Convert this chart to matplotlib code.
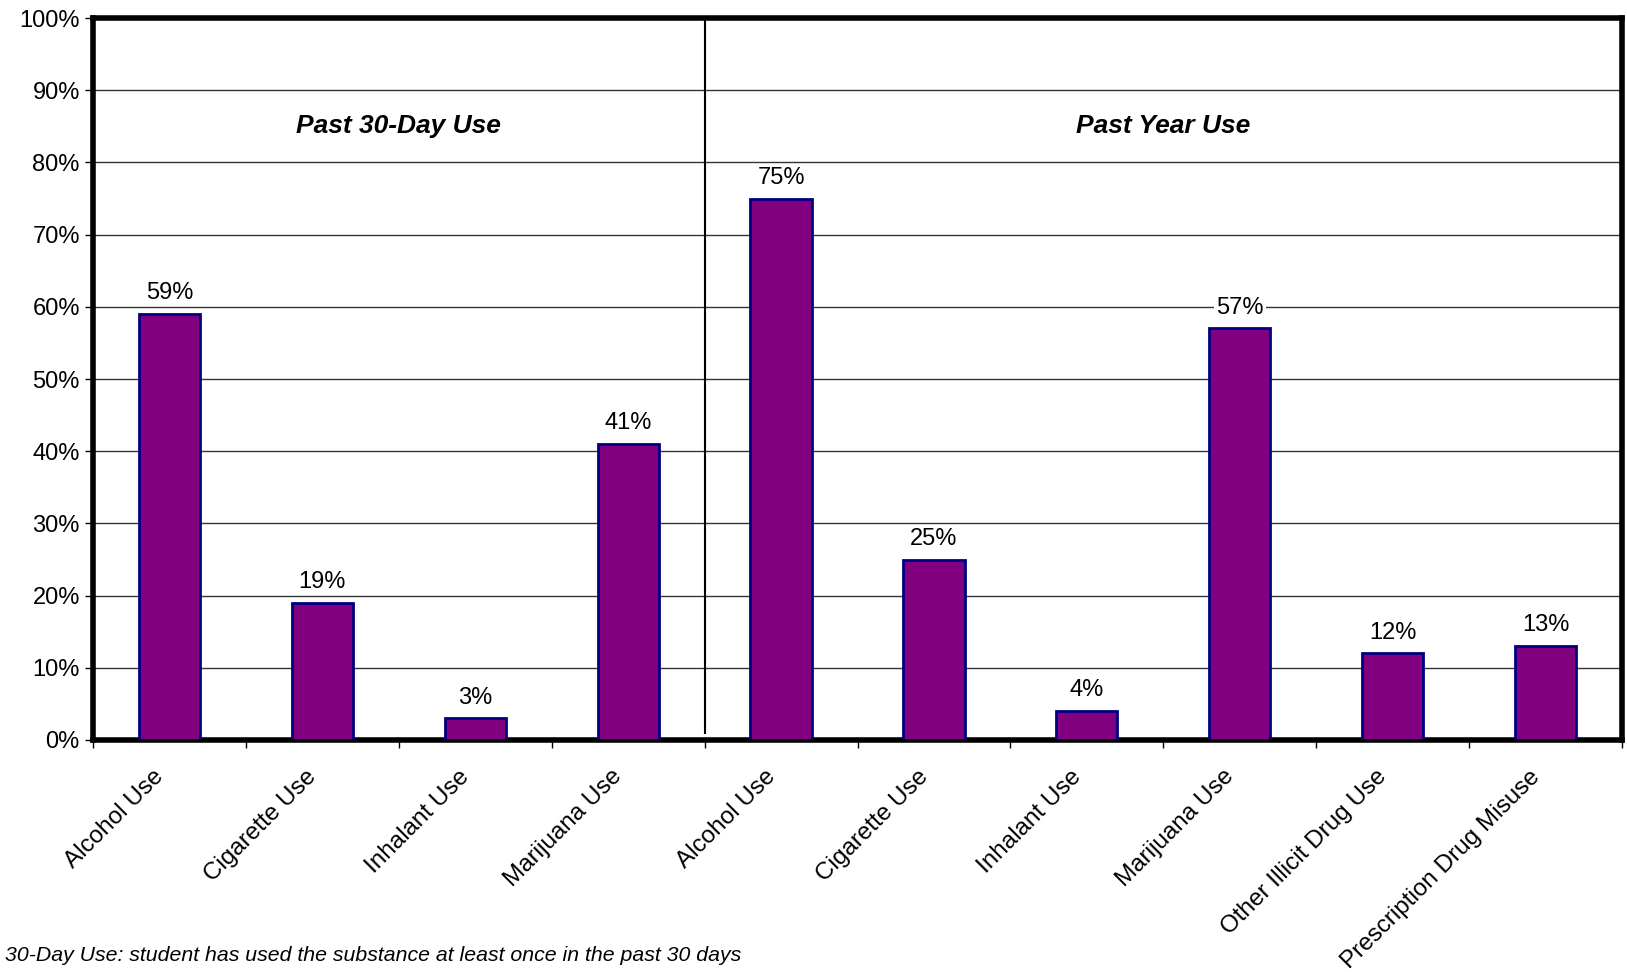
import matplotlib.pyplot as plt
import numpy as np

plt.rcParams['font.family'] = ['Liberation Sans', 'DejaVu Sans']

# survey results, percent of students
categories = ["Alcohol Use", "Cigarette Use", "Inhalant Use", "Marijuana Use",
              "Alcohol Use", "Cigarette Use", "Inhalant Use", "Marijuana Use",
              "Other Illicit Drug Use", "Prescription Drug Misuse"]
values = [59, 19, 3, 41, 75, 25, 4, 57, 12, 13]
groups = ["Past 30-Day Use", "Past Year Use"]
group_sizes = [4, 6]
footnote = "30-Day Use: student has used the substance at least once in the past 30 days"

fig = plt.figure(figsize=(16.27, 9.72), dpi=100)
ax = fig.add_axes([93 / 1627, 1 - 740 / 972, (1622 - 93) / 1627, (740 - 18) / 972])

x = np.arange(len(values))
bars = ax.bar(x, values, width=0.4, color="#800080", edgecolor="#000080",
              linewidth=2, zorder=3)

for xi, v in zip(x, values):
    ax.annotate(f"{v}%", (xi, v), xytext=(0, 7), textcoords="offset points",
                ha="center", va="bottom", fontsize=17, zorder=4,
                bbox=dict(facecolor="white", edgecolor="none", pad=1.5))

ax.set_xlim(-0.5, len(values) - 0.5)
ax.set_ylim(0, 100)
ax.set_yticks(np.arange(0, 101, 10))
ax.set_yticklabels([f"{t}%" for t in range(0, 101, 10)], fontsize=17)
ax.yaxis.grid(True, color="#333333", linewidth=1, zorder=0)

# category ticks on the boundaries, names centred under each bar
ax.set_xticks(np.arange(-0.5, len(values) + 0.5, 1))
ax.set_xticklabels([])
ax.tick_params(axis="x", length=6, width=1, direction="out")
ax.tick_params(axis="y", length=6, width=1, direction="out")
for xi, name in zip(x, categories):
    ax.annotate(name, (xi - 0.06, 0), xytext=(0, -24), textcoords="offset points",
                rotation=45, rotation_mode="anchor", ha="right", va="center",
                fontsize=17.5, annotation_clip=False)

for s in ax.spines.values():
    s.set_linewidth(4)
    s.set_color("black")

# divider between the two periods and the group headings
split = group_sizes[0] - 0.5
ax.plot([split, split], [1, 100], color="black", linewidth=1.5, zorder=2)
start = -0.5
for name, n in zip(groups, group_sizes):
    ax.text(start + n / 2, 85, name, ha="center", va="center", fontsize=19,
            fontweight="bold", fontstyle="italic")
    start += n

fig.text(5 / 1627, 1 - 955 / 972, footnote, fontsize=15.3, fontstyle="italic",
         ha="left", va="center")

fig.savefig("out.png", dpi=100)
